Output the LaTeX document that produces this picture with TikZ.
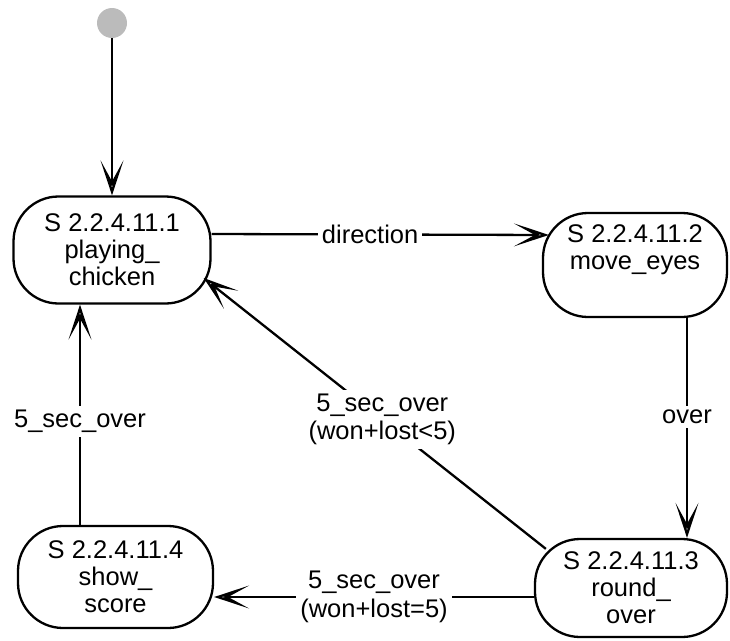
\documentclass[tikz,border=0pt]{standalone}
\usepackage{fontspec}
\setmainfont{Liberation Sans}
\usetikzlibrary{arrows.meta}
\definecolor{initgray}{HTML}{BBBBBB}
\tikzset{
  % --- states ---
  umlstate/.style={draw=black, line width=2.3pt, rounded corners=45pt,
                   align=center, inner sep=0pt, fill=white,
                   font=\fontsize{25.5}{27}\selectfont},
  umlinit/.style={circle, fill=initgray, minimum size=30pt, inner sep=0pt},
  % --- transitions ---
  umltrans/.style={line width=2.3pt, draw=black, miter limit=20,
                   -{Stealth[open, length=35pt, width=23pt, inset=21pt]}},
  translabel/.style={fill=white, inner sep=4pt, align=center,
                     font=\fontsize{25.5}{28.5}\selectfont},
}
\begin{document}
\begin{tikzpicture}[x=1pt, y=-1pt]
  \useasboundingbox (0,0) rectangle (730,640);
  % --- states ---
  \node[umlinit] (init) at (112,23) {};
  \node[umlstate, minimum width=197pt, minimum height=107pt] (pc) at (112,250)
        {S 2.2.4.11.1\\playing\_\\chicken};
  \node[umlstate, minimum width=184pt, minimum height=104pt] (me) at (635,265)
        {S 2.2.4.11.2\\move\_eyes\\\strut};
  \node[umlstate, minimum width=192pt, minimum height=98pt] (ro) at (631,588)
        {S 2.2.4.11.3\\round\_\\over};
  \node[umlstate, minimum width=195pt, minimum height=102pt] (ss) at (115.5,577)
        {S 2.2.4.11.4\\show\_\\score};

  % --- transitions ---
  \draw[umltrans] (init) -- (pc.north);
  \draw[umltrans] ([yshift=16pt]pc.east) --
        node[translabel, pos=0.47]{direction} ([xshift=7pt,yshift=30pt]me.west);
  \draw[umltrans] ([xshift=52pt]me.south) --
        node[translabel, pos=0.45]{over} ([xshift=52pt]me.south |- ro.north);
  \draw[umltrans] ([xshift=12pt,yshift=-11pt]ro.north west) --
        node[translabel, pos=0.478]{5\_sec\_over\\(won+lost<5)}
        ([xshift=-8pt,yshift=-28pt]pc.east);
  \draw[umltrans] ([yshift=-9pt]ro.west) --
        node[translabel, pos=0.5]{5\_sec\_over\\(won+lost=5)}
        ([yshift=-9pt]ro.west -| ss.east);
  \draw[umltrans] ([xshift=-35.5pt]ss.north) --
        node[translabel, pos=0.47]{5\_sec\_over}
        ([xshift=-35.5pt]ss.north |- pc.south);
\end{tikzpicture}
\end{document}
